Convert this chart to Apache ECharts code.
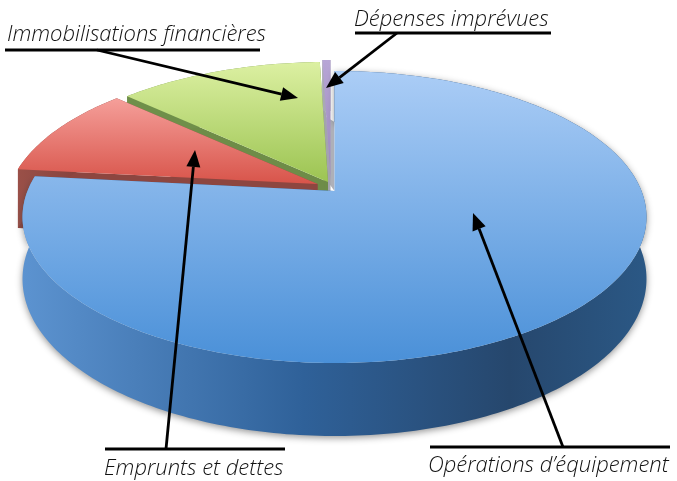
<!DOCTYPE html>
<html>
<head>
<meta charset="utf-8">
<style>
  html, body { margin: 0; padding: 0; background: #fff; }
  #main { width: 677px; height: 481px; }
</style>
<script src="https://cdn.jsdelivr.net/npm/echarts@6/dist/echarts.min.js"></script>
</head>
<body>
<div id="main"></div>
<script>
// values, in percent, clockwise from 12 o'clock
var categories = ['Opérations d’équipement', 'Emprunts et dettes', 'Immobilisations financières', 'Dépenses imprévues']
var values = [76.7, 10.2, 12.6, 0.5]

// projection of the disc (perspective, centre sits above the ellipse middle)
var CX = 334.5, CY = 190, RX = 307, RY = 141.4, K = 0.178, DEPTH = 60

// per slice look, same order as categories
var looks = [
  { dx: 0, dy: 1, z2: 4, top: ['#abcdf6', '#4a90d8'], shadow: true,
    wall: [[0, '#5c93d0'], [0.45, '#2f6199'], [0.78, '#26476d'], [1, '#2b5885']], cut: '#2f6199' },
  { dx: -17, dy: -6, z2: 3, top: ['#f59f9a', '#d8544a'], wall: [[0, '#9a5048'], [1, '#7a3a36']], cut: '#8d4640' },
  { dx: -6.5, dy: -8, z2: 2, top: ['#dcf0a2', '#9cc452'], wall: [[0, '#6f8f4a'], [1, '#6f8f4a']], cut: '#6e8c48' },
  { dx: -4, dy: -10, z2: 1, top: ['#b7a5d6', '#9a88ba'], wall: [[0, '#a9a9b4'], [1, '#a9a9b4']], cut: '#a3a3ae' }
]

// labels and leader lines: text pos, underline, arrow from -> to
var notes = [
  { text: [428, 455], rule: [430, 670, 447], from: [563, 447], to: [473, 213] },
  { text: [104, 458], rule: [105, 285, 449], from: [166, 449], to: [195, 150] },
  { text: [7, 24], rule: [5, 260, 50], from: [97, 50], to: [298, 98] },
  { text: [354, 9], rule: [355, 551, 33], from: [397, 33], to: [326, 88] }
]

var total = values.reduce(function (a, b) { return a + b }, 0)

function project(deg, r, z, look) {
  var a = deg * Math.PI / 180
  var X = Math.sin(a) * r
  var Y = -Math.cos(a) * r
  var w = 1 - K * Y
  return [CX + look.dx + RX * X / w, CY + look.dy + (RY * Y + z * DEPTH) / w]
}

function arc(from, to, z, look) {
  var pts = []
  var n = Math.max(2, Math.ceil(Math.abs(to - from)))
  for (var i = 0; i <= n; i++) {
    pts.push(project(from + (to - from) * i / n, 1, z, look))
  }
  return pts
}

function renderSlice(params, api) {
  var i = params.dataIndex
  var look = looks[i]
  var start = 0
  for (var j = 0; j < i; j++) start += values[j] / total * 360
  var end = start + api.value(0) / total * 360

  var apexTop = project(0, 0, 0, look)
  var apexBot = project(0, 0, 1, look)
  var topArc = arc(start, end, 0, look)
  var botArc = arc(start, end, 1, look)
  var children = []

  function face(points, fill, extra, z2) {
    var el = {
      type: 'polygon',
      z2: z2 === undefined ? look.z2 : z2,
      shape: { points: points },
      style: { fill: fill }
    }
    if (extra) Object.assign(el.style, extra)
    children.push(el)
  }

  // the last slice also shows the inside of the pie through the gap around it
  if (i === values.length - 1) {
    face([
      project(start, 1, 1, looks[i - 1]),
      project(end, 1, 1, looks[0]),
      project(0, 0, 0, looks[0]),
      project(0, 0, 0, looks[i - 1])
    ], '#aeb0b8', null, 0)
  }

  // cut faces first, then the rim, then the top
  face([apexTop, topArc[0], botArc[0], apexBot], look.cut)
  face([apexTop, topArc[topArc.length - 1], botArc[botArc.length - 1], apexBot], look.cut)
  face(topArc.concat(botArc.slice().reverse()),
    new echarts.graphic.LinearGradient(0, 0, 1, 0, look.wall.map(function (s) {
      return { offset: s[0], color: s[1] }
    })),
    look.shadow ? { shadowBlur: 7, shadowColor: 'rgba(60,60,60,0.55)', shadowOffsetY: 2 } : null)
  face([apexTop].concat(topArc),
    new echarts.graphic.LinearGradient(0, 0, 0, 1, [
      { offset: 0, color: look.top[0] },
      { offset: 1, color: look.top[1] }
    ]))

  return { type: 'group', children: children }
}

function noteGraphics() {
  var out = []
  notes.forEach(function (n, i) {
    out.push({
      type: 'text', x: n.text[0], y: n.text[1], z: 10,
      style: {
        text: categories[i],
        font: 'italic 300 22px "Open Sans", Lato, sans-serif',
        fill: '#111'
      }
    })
    out.push({
      type: 'line', z: 10,
      shape: { x1: n.rule[0], y1: n.rule[2], x2: n.rule[1], y2: n.rule[2] },
      style: { stroke: '#000', lineWidth: 2.8 }
    })
    var dx = n.to[0] - n.from[0], dy = n.to[1] - n.from[1]
    var len = Math.sqrt(dx * dx + dy * dy)
    var ux = dx / len, uy = dy / len
    var bx = n.to[0] - ux * 17, by = n.to[1] - uy * 17
    out.push({
      type: 'line', z: 10,
      shape: { x1: n.from[0], y1: n.from[1], x2: bx, y2: by },
      style: { stroke: '#000', lineWidth: 2.8 }
    })
    out.push({
      type: 'polygon', z: 10,
      shape: { points: [n.to, [bx - uy * 7, by + ux * 7], [bx + uy * 7, by - ux * 7]] },
      style: { fill: '#000' }
    })
  })
  return out
}

var chart = echarts.init(document.getElementById('main'))
chart.setOption({
  animation: false,
  backgroundColor: '#fff',
  graphic: noteGraphics(),
  series: [{
    type: 'custom',
    coordinateSystem: 'none',
    renderItem: renderSlice,
    data: values.map(function (v, i) { return { name: categories[i], value: [v] } })
  }]
})
</script>
</body>
</html>
